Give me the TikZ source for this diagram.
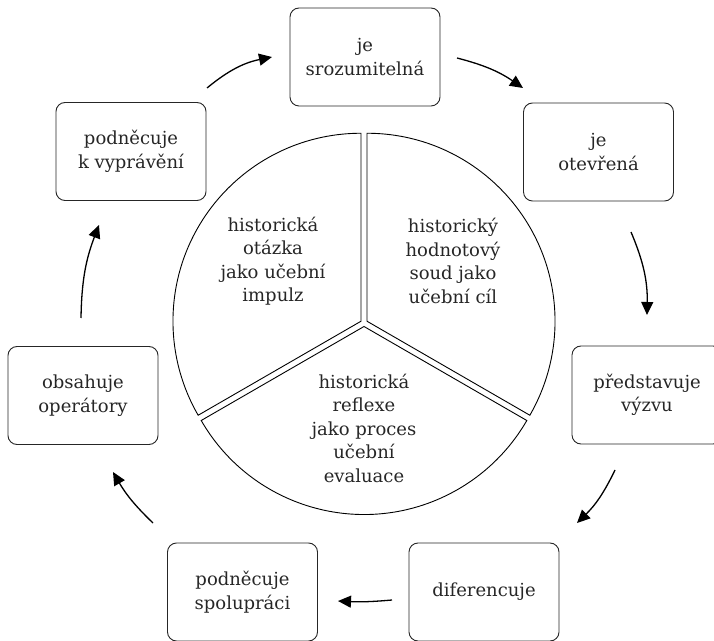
\documentclass[tikz,border=0pt]{standalone}
\usepackage{fontspec}
\setmainfont{DejaVu Serif}
\usetikzlibrary{arrows.meta}
\begin{document}
\begin{tikzpicture}[x=1pt,y=1pt,
  every node/.style={font=\fontsize{18}{23.5}\selectfont, text=black!85},
  box/.style={draw=black!85, line width=0.9pt, rounded corners=9pt, minimum width=150pt, minimum height=98pt, align=center, inner sep=2pt},
  sector/.style={draw=black, line width=0.9pt},
  lab/.style={align=center, inner sep=0pt},
  flow/.style={line width=1.3pt, -{Triangle[length=13pt,width=12pt]}}]
\useasboundingbox (0,0) rectangle (714,640);
% sectors
\draw[sector, shift={(30:3.5)}] (364,317) -- ++(90:188) arc[start angle=90, end angle=-30, radius=188] -- cycle;
\draw[sector, shift={(150:3.5)}] (364,317) -- ++(90:188) arc[start angle=90, end angle=210, radius=188] -- cycle;
\draw[sector, shift={(270:3.5)}] (364,317) -- ++(210:188) arc[start angle=210, end angle=330, radius=188] -- cycle;
\node[lab] (s1) at (273,379) {historická\\otázka\\jako učební\\impulz};
\node[lab] (s2) at (453,379) {historický\\hodnotový\\soud jako\\učební cíl};
\node[lab] (s3) at (364,212) {historická\\reflexe\\jako proces\\učební\\evaluace};
% boxes
\node[box] (b1) at (365,583) {je\\srozumitelná};
\node[box] (b2) at (598.5,488) {je\\otevřená};
\node[box] (b3) at (647,245) {představuje\\výzvu};
\node[box] (b4) at (484,48) {diferencuje};
\node[box] (b5) at (242.5,48) {podněcuje\\spolupráci};
\node[box] (b6) at (83,244.5) {obsahuje\\operátory};
\node[box] (b7) at (131,488.5) {podněcuje\\k vyprávění};
% arrow ends
\coordinate (a1) at (207,552); \coordinate (a2) at (272,583);
\coordinate (b1s) at (457,582); \coordinate (b1e) at (523,552);
\coordinate (c1) at (631,408); \coordinate (c2) at (647,325);
\coordinate (d1) at (615,170); \coordinate (d2) at (577,117);
\coordinate (e1) at (392,40); \coordinate (e2) at (338,39);
\coordinate (f1) at (153,117); \coordinate (f2) at (113,168);
\coordinate (g1) at (81,322); \coordinate (g2) at (99,415);
\draw[flow] (a1) to[bend left=14] (a2);
\draw[flow] (b1s) to[bend left=10] (b1e);
\draw[flow] (c1) to[bend left=12] (c2);
\draw[flow] (d1) to[bend left=10] (d2);
\draw[flow] (e1) to[bend left=4] (e2);
\draw[flow] (f1) to[bend left=8] (f2);
\draw[flow] (g1) to[bend left=10] (g2);
\end{tikzpicture}
\end{document}
